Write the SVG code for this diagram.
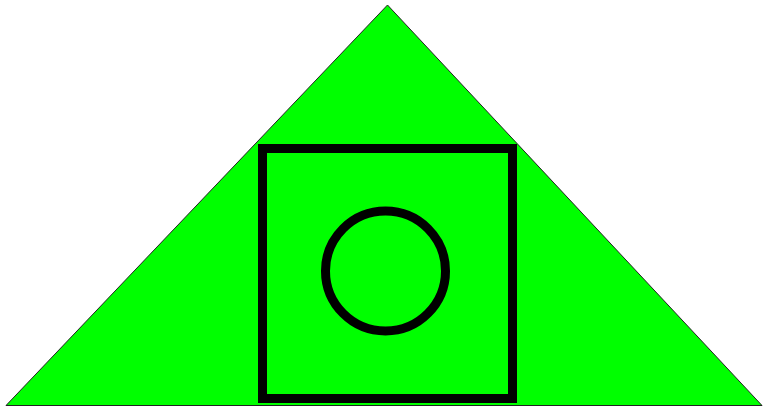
<svg xmlns="http://www.w3.org/2000/svg" width="763" height="409" viewBox="0 0 763 409">
<rect width="763" height="409" fill="#ffffff"/>
<polygon points="387.5,5 6,405.5 762,405.5" fill="#00ff00" stroke="#222" stroke-width="1"/>
<rect x="262.5" y="148.5" width="250" height="250" fill="none" stroke="#000" stroke-width="9"/>
<circle cx="385.5" cy="271" r="60" fill="none" stroke="#000" stroke-width="9"/>
</svg>
